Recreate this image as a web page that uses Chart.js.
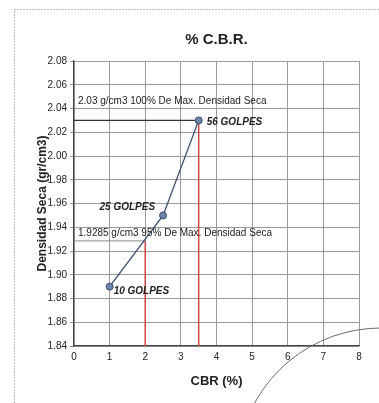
<!DOCTYPE html>
<html>
<head>
<meta charset="utf-8">
<title>% C.B.R.</title>
<script src="https://cdn.jsdelivr.net/npm/chart.js@4.4.0/dist/chart.umd.min.js"></script>
<style>
  html, body { margin: 0; padding: 0; background: #fff; }
  #wrap { position: relative; width: 379px; height: 403px; }
</style>
</head>
<body>
<div id="wrap"><canvas id="cbrChart"></canvas></div>
<script>
// ensayo CBR: golpes por molde, CBR y densidad seca
const golpes = ['10 GOLPES', '25 GOLPES', '56 GOLPES'];
const cbrValues = [1, 2.5, 3.5];
const densidadValues = [1.89, 1.95, 2.03];

// densidad maxima y al 95%, con su CBR correspondiente
const maxDensidad = 2.03;
const densidad95 = 1.9285;
const cbr100 = 3.5;
const cbr95 = 2;

const yMin = 1.84, yMax = 2.08, yStep = 0.02;
const xMin = 0, xMax = 8, xStep = 1;

const textos = [
  maxDensidad + ' g/cm3 100% De Max. Densidad Seca',
  densidad95 + ' g/cm3 95% De Max. Densidad Seca'
];

const FONT = '"Liberation Sans", Arial, sans-serif';

const puntos = cbrValues.map((x, i) => ({ x: x, y: densidadValues[i] }));

// texto de golpes y de densidades sobre el grafico
const labelsPlugin = {
  id: 'labels',
  afterDatasetsDraw(chart) {
    const ctx = chart.ctx;
    const xs = chart.scales.x, ys = chart.scales.y;
    const left = chart.chartArea.left;
    ctx.save();
    ctx.fillStyle = '#222';
    ctx.textBaseline = 'middle';
    ctx.font = '10px ' + FONT;
    ctx.textAlign = 'left';
    ctx.fillText(textos[0], left + 4, ys.getPixelForValue(maxDensidad) - 19);
    ctx.fillText(textos[1], left + 4, ys.getPixelForValue(densidad95) - 8);

    ctx.font = 'italic bold 10px ' + FONT;
    const offs = [[4, 5, 'left'], [-8, -8, 'right'], [8, 2, 'left']];
    golpes.forEach((g, i) => {
      const px = xs.getPixelForValue(cbrValues[i]);
      const py = ys.getPixelForValue(densidadValues[i]);
      ctx.textAlign = offs[i][2];
      ctx.fillText(g, px + offs[i][0], py + offs[i][1]);
    });
    ctx.restore();
  }
};

// marco del formato y trazo a mano de la hoja
const sheetPlugin = {
  id: 'sheet',
  beforeDraw(chart) {
    const ctx = chart.ctx;
    ctx.save();
    ctx.strokeStyle = '#bdbdbd';
    ctx.lineWidth = 1;
    ctx.setLineDash([2, 1]);
    ctx.beginPath();
    ctx.moveTo(14.5, chart.height);
    ctx.lineTo(14.5, 9.5);
    ctx.lineTo(chart.width, 9.5);
    ctx.stroke();
    ctx.restore();
  },
  afterDraw(chart) {
    const ctx = chart.ctx;
    ctx.save();
    ctx.strokeStyle = '#6b6b6b';
    ctx.lineWidth = 1;
    ctx.beginPath();
    ctx.arc(381, 472, 144, Math.PI * 1.06, Math.PI * 1.5);
    ctx.stroke();
    ctx.restore();
  }
};

new Chart(document.getElementById('cbrChart'), {
  type: 'scatter',
  data: {
    datasets: [
      {
        label: 'Densidad',
        data: puntos,
        showLine: true,
        borderColor: '#3c4d6b',
        borderWidth: 1.3,
        pointRadius: 3.5,
        pointBackgroundColor: '#6c82a6',
        pointBorderColor: '#3c4d6b',
        pointBorderWidth: 1,
        order: 0
      },
      {
        label: '100%',
        data: [{ x: xMin, y: maxDensidad }, { x: cbr100, y: maxDensidad }],
        showLine: true,
        borderColor: '#333',
        borderWidth: 1.3,
        pointRadius: 0,
        order: 2
      },
      {
        label: '95%',
        data: [{ x: xMin, y: densidad95 }, { x: cbr95, y: densidad95 }],
        showLine: true,
        borderColor: '#8a8a8a',
        borderWidth: 1,
        pointRadius: 0,
        order: 2
      },
      {
        label: 'CBR 100%',
        data: [{ x: cbr100, y: yMin }, { x: cbr100, y: maxDensidad }],
        showLine: true,
        borderColor: '#cc4747',
        borderWidth: 1.5,
        pointRadius: 0,
        order: 1
      },
      {
        label: 'CBR 95%',
        data: [{ x: cbr95, y: yMin }, { x: cbr95, y: densidad95 }],
        showLine: true,
        borderColor: '#cc4747',
        borderWidth: 1.5,
        pointRadius: 0,
        order: 1
      }
    ]
  },
  options: {
    responsive: true,
    maintainAspectRatio: false,
    animation: false,
    layout: { padding: { left: 0, right: 20, top: 0, bottom: 0 } },
    plugins: {
      legend: { display: false },
      tooltip: { enabled: false },
      title: {
        display: true,
        text: '% C.B.R.',
        fullSize: false,
        color: '#222',
        font: { family: FONT, size: 15, weight: 'bold' },
        padding: { top: 31, bottom: 12 }
      }
    },
    scales: {
      x: {
        type: 'linear',
        min: xMin,
        max: xMax,
        afterFit: s => { s.height = 57; },
        ticks: {
          stepSize: xStep,
          color: '#222',
          padding: 5,
          font: { family: FONT, size: 10 }
        },
        grid: { color: '#9a9a9a', lineWidth: 1, drawTicks: false },
        border: { color: '#444', width: 1.2 },
        title: {
          display: true,
          text: 'CBR (%)',
          color: '#222',
          font: { family: FONT, size: 13, weight: 'bold' },
          padding: { top: 0, bottom: 14 }
        }
      },
      y: {
        type: 'linear',
        min: yMin,
        max: yMax,
        afterFit: s => { s.width = 74; },
        ticks: {
          stepSize: yStep,
          color: '#222',
          padding: 3,
          font: { family: FONT, size: 10 },
          callback: v => Number(v).toFixed(2)
        },
        grid: { color: '#9a9a9a', lineWidth: 1, tickLength: 4 },
        border: { color: '#444', width: 1.2 },
        title: {
          display: true,
          text: 'Densidad Seca (gr/cm3)',
          color: '#222',
          font: { family: FONT, size: 12, weight: 'bold' },
          padding: { top: 35, bottom: 0 }
        }
      }
    }
  },
  plugins: [sheetPlugin, labelsPlugin]
});
</script>
</body>
</html>
